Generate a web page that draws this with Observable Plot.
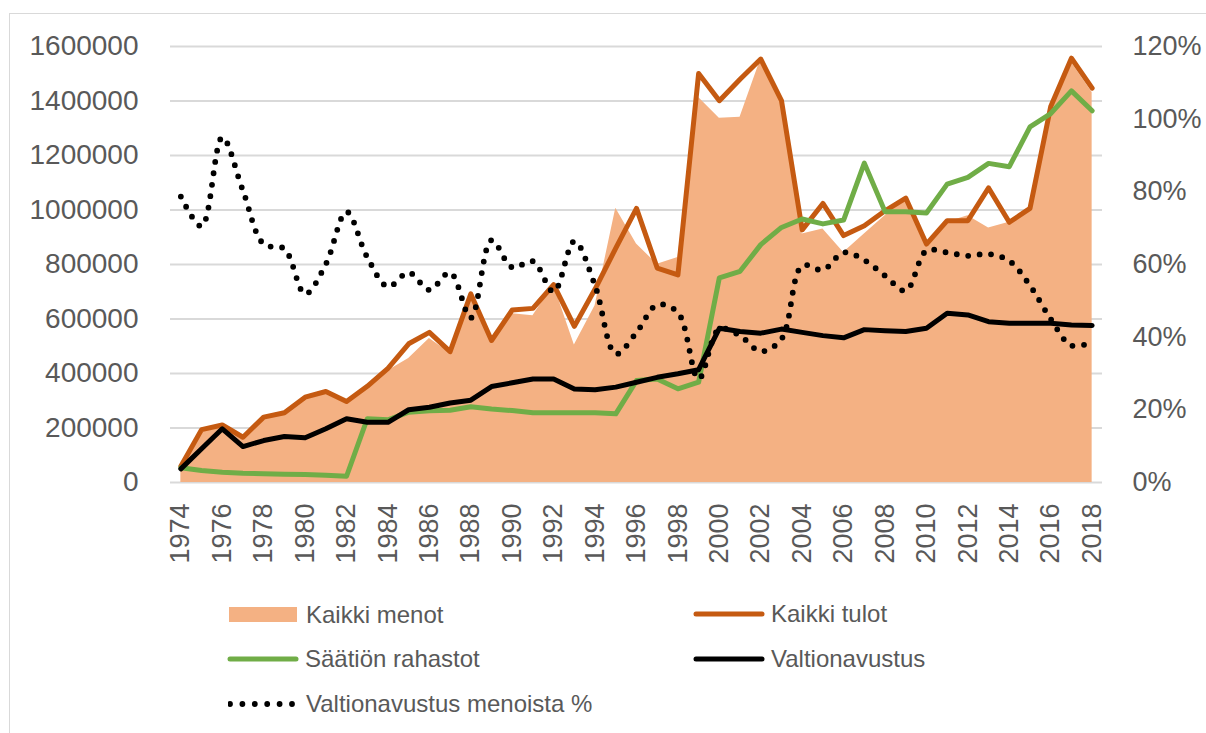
<!DOCTYPE html>
<html><head><meta charset="utf-8">
<script src="https://cdn.jsdelivr.net/npm/d3@7"></script>
<script src="https://cdn.jsdelivr.net/npm/@observablehq/plot@0.6"></script>
<style>
html,body{margin:0;padding:0;background:#fff;}
body{width:1206px;height:733px;overflow:hidden;position:relative;font-family:"Liberation Sans",Arial,sans-serif;}
#frame{position:absolute;left:9px;top:13px;width:1200px;height:730px;border-left:1.5px solid #d9d9d9;border-top:1.5px solid #d9d9d9;}
#chart{position:absolute;left:0;top:0;}
.item{position:absolute;height:30px;display:flex;align-items:center;}
.item span{font-size:24px;color:#595959;white-space:nowrap;margin-left:6px;}
</style>
</head><body>
<div id="frame"></div>
<div id="chart"></div>
<div id="legend"></div>
<script>
const years = [1974,1975,1976,1977,1978,1979,1980,1981,1982,1983,1984,1985,1986,1987,1988,1989,1990,1991,1992,1993,1994,1995,1996,1997,1998,1999,2000,2001,2002,2003,2004,2005,2006,2007,2008,2009,2010,2011,2012,2013,2014,2015,2016,2017,2018];
// Kaikki menot (area)
const menot = [58000,185000,205000,160000,230000,250000,305000,325000,290000,350000,410000,455000,528000,475000,690000,515000,619000,612000,726000,505000,649000,1006000,875000,801000,826000,1413000,1337000,1340000,1554000,1405000,912000,930000,844000,912000,979000,1044000,875000,955000,979000,934000,955000,997000,1380000,1541000,1431000];
// Kaikki tulot
const tulot = [60000,194000,211000,166000,240000,256000,313000,334000,297000,353000,419000,509000,551000,480000,692000,521000,633000,639000,726000,573000,710000,860000,1006000,787000,762000,1501000,1401000,1480000,1554000,1401000,927000,1024000,906000,942000,997000,1044000,875000,961000,961000,1081000,955000,1006000,1380000,1557000,1447000];
// Säätiön rahastot
const rahastot = [54000,44000,38000,34000,32000,30000,29000,27000,23000,234000,230000,258000,263000,265000,278000,270000,264000,256000,256000,256000,256000,252000,374000,380000,344000,368000,751000,775000,873000,936000,967000,949000,963000,1172000,994000,994000,989000,1095000,1120000,1171000,1159000,1305000,1354000,1437000,1364000];
// Valtionavustus
const valtio = [50000,124000,197000,132000,154000,169000,164000,197000,234000,221000,221000,267000,276000,292000,302000,352000,366000,380000,380000,343000,340000,350000,368000,386000,399000,414000,566000,554000,548000,563000,551000,539000,531000,561000,557000,554000,566000,621000,615000,590000,584000,584000,584000,578000,576000];
// Valtionavustus menoista % (right axis)
const pct = [78.7,70.5,95,80.3,65.6,64.3,51.9,60.1,74.5,62,53.9,57.8,53,57.8,45.3,66.7,59.2,60.9,52.5,66.4,54.2,35.4,41.3,48.9,46.8,28.5,42.3,40.4,36.1,39.5,59.7,58.5,63.3,61.2,56.9,52.8,63.8,63.3,62.4,62.9,61,54.2,45,37.7,38.6];

const leftTicks = [0,200000,400000,600000,800000,1000000,1200000,1400000,1600000];
const pctTicks = [0,20,40,60,80,100,120];
const xTicks = [1974,1976,1978,1980,1982,1984,1986,1988,1990,1992,1994,1996,1998,2000,2002,2004,2006,2008,2010,2012,2014,2016,2018];

const seriesNames = ["Kaikki menot","Kaikki tulot","Säätiön rahastot","Valtionavustus","Valtionavustus menoista %"];
const colors = {menot:"#F4B183", tulot:"#C55A11", rahastot:"#70AD47", valtio:"#000000", pct:"#000000"};

const K = 1600000/120; // percent -> left-axis units
const data = years.map((y,i)=>({year:y, menot:menot[i], tulot:tulot[i], rahastot:rahastot[i], valtio:valtio[i], pctv:pct[i]*K}));

const H = 600;
const txt = "#595959";
const chart = Plot.plot({
  width:1206, height:H,
  marginLeft:170, marginRight:104, marginTop:46, marginBottom:H-482,
  x:{domain:[1973.5,2018.5]},
  y:{domain:[0,1600000]},
  style:{fontFamily:"Liberation Sans, Arial, sans-serif", background:"transparent", overflow:"visible"},
  marks:[
    Plot.gridY({ticks:leftTicks, stroke:"#d9d9d9", strokeOpacity:1, strokeWidth:2}),
    Plot.areaY(data,{x:"year", y:"menot", fill:colors.menot, fillOpacity:1, curve:"linear"}),
    Plot.line(data,{x:"year", y:"tulot", stroke:colors.tulot, strokeWidth:5, strokeLinejoin:"round"}),
    Plot.line(data,{x:"year", y:"rahastot", stroke:colors.rahastot, strokeWidth:5, strokeLinejoin:"round"}),
    Plot.line(data,{x:"year", y:"valtio", stroke:colors.valtio, strokeWidth:5, strokeLinejoin:"round"}),
    Plot.line(data,{x:"year", y:"pctv", stroke:colors.pct, strokeWidth:5.8, strokeDasharray:"0 11.5", strokeLinecap:"round", curve:"catmull-rom"}),
    Plot.axisY({ticks:leftTicks, anchor:"left", tickSize:0, tickPadding:32, fontSize:28, fill:txt, tickFormat:d=>String(d), label:null}),
    Plot.axisY({ticks:pctTicks.map(p=>p*K), anchor:"right", tickSize:0, tickPadding:30, fontSize:27, fill:txt, tickFormat:d=>Math.round(d/K)+"%", label:null}),
    Plot.axisX({ticks:xTicks, anchor:"bottom", tickSize:0, tickPadding:21, tickRotate:-90, fontSize:27, fill:txt, tickFormat:d=>String(d), label:null})
  ]
});
document.getElementById("chart").appendChild(chart);

// Legend
const legendPos = [
  {x:228, y:615, kind:"rect", color:colors.menot},
  {x:693, y:614, kind:"line", color:colors.tulot},
  {x:227, y:659, kind:"line", color:colors.rahastot},
  {x:693, y:659, kind:"line", color:colors.valtio},
  {x:228, y:704, kind:"dots", color:colors.pct}
];
const leg = document.getElementById("legend");
seriesNames.forEach((name,i)=>{
  const p = legendPos[i];
  const d = document.createElement("div");
  d.className = "item";
  d.style.left = p.x+"px";
  d.style.top = (p.y-15)+"px";
  let sw;
  if(p.kind==="rect") sw = `<svg width="72" height="30"><rect x="1" y="7" width="68" height="15" fill="${p.color}"/></svg>`;
  else if(p.kind==="line") sw = `<svg width="72" height="30"><line x1="3" x2="69" y1="15" y2="15" stroke="${p.color}" stroke-width="5" stroke-linecap="round"/></svg>`;
  else sw = `<svg width="72" height="30"><line x1="2" x2="64" y1="15" y2="15" stroke="${p.color}" stroke-width="5.8" stroke-linecap="round" stroke-dasharray="0 12.4"/></svg>`;
  d.innerHTML = sw + `<span>${name}</span>`;
  leg.appendChild(d);
});
</script>
</body></html>
